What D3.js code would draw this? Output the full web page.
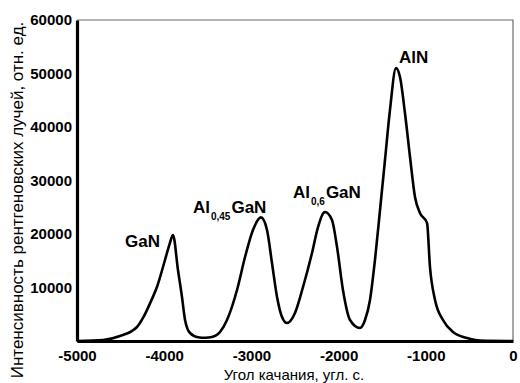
<!DOCTYPE html>
<html>
<head>
<meta charset="utf-8">
<script src="https://cdn.jsdelivr.net/npm/d3@7"></script>
<style>
	html, body { margin: 0; padding: 0; background: #fff; }
	svg { display: block; font-family: Arial, "Liberation Sans", sans-serif; }
</style>
</head>
<body>
<div id="chart"></div>
<script>
// угол качания, угл. с.
const angles = [
	-5000, -4700, -4507, -4312, -4240, -4150, -4083, -3991, -3940, -3899,
	-3842, -3796, -3761, -3704, -3612, -3530, -3452, -3360, -3280, -3165,
	-3073, -2982, -2890, -2821, -2764, -2706, -2649, -2592, -2500, -2408,
	-2305, -2236, -2156, -2076, -2018, -1950, -1869, -1755, -1697, -1640,
	-1583, -1525, -1468, -1411, -1342, -1296, -1239, -1181, -1124, -1067,
	-986, -952, -894, -803, -688, -528, -378, 0
];
// интенсивность, отн. ед.
const intensity = [
	0, 200, 935, 2617, 4400, 7500, 10093, 15140, 18000, 19800,
	13271, 8224, 3925, 1495, 700, 600, 748, 1682, 3925, 9533,
	15701, 20748, 23100, 20748, 14579, 8224, 4486, 3364, 5234, 10093,
	16449, 21308, 24100, 22617, 17570, 9533, 3925, 2430, 3925, 7664,
	15140, 24486, 33832, 43178, 51000, 49346, 42617, 34393, 26916, 23925,
	22056, 13832, 7664, 3925, 1682, 560, 80, 0
];
const xTicks = [-5000, -4000, -3000, -2000, -1000, 0];
const yTicks = [10000, 20000, 30000, 40000, 50000, 60000];

// подписи пиков: [основа, индекс, хвост, угол, интенсивность]
const peakLabels = [
	["GaN", "", "", -4450, 17570],
	["Al", "0,45", "GaN", -3670, 23925],
	["Al", "0,6", "GaN", -2523, 26730],
	["AlN", "", "", -1307, 51963]
];

(function() {
	const width = 520;
	const height = 383;
	const plot = { left: 77, right: 513, top: 20, bottom: 341 };

	const x = d3.scaleLinear().domain([-5000, 0]).range([plot.left, plot.right]);
	const y = d3.scaleLinear().domain([0, 60000]).range([plot.bottom, plot.top]);

	const svg = d3.select("#chart")
		.append("svg")
		.attr("width", width)
		.attr("height", height);

	// тонкая рамка сверху и справа
	svg.append("path")
		.attr("d", `M${plot.left},${plot.top}H${plot.right}V${plot.bottom}`)
		.attr("fill", "none")
		.attr("stroke", "#6a6a6a")
		.attr("stroke-width", 1.2);

	// кривая
	const line = d3.line()
		.x((d, i) => x(angles[i]))
		.y(d => y(d))
		.curve(d3.curveMonotoneX);

	svg.append("path")
		.datum(intensity)
		.attr("d", line)
		.attr("fill", "none")
		.attr("stroke", "#000")
		.attr("stroke-width", 2.6)
		.attr("stroke-linejoin", "round");

	// оси
	const xAxis = svg.append("g")
		.attr("transform", `translate(0,${plot.bottom})`)
		.call(d3.axisBottom(x).tickValues(xTicks).tickSize(0).tickPadding(9));
	const yAxis = svg.append("g")
		.attr("transform", `translate(${plot.left},0)`)
		.call(d3.axisLeft(y).tickValues(yTicks).tickSize(0).tickPadding(5).tickFormat(d3.format("d")));

	[xAxis, yAxis].forEach(g => {
		g.select(".domain").attr("stroke", "#000").attr("stroke-width", 3.2);
		g.selectAll("text")
			.attr("fill", "#000")
			.style("font-size", "15px")
			.style("font-weight", "bold")
			.style("font-family", "Arial, 'Liberation Sans', sans-serif");
	});
	// обычный дефис вместо минуса
	xAxis.selectAll("text").text(d => String(d));

	// подписи осей
	svg.append("text")
		.attr("x", 294)
		.attr("y", 380)
		.attr("text-anchor", "middle")
		.style("font-size", "15px")
		.text("Угол качания, угл. с.");

	svg.append("text")
		.attr("transform", "translate(23,200) rotate(-90)")
		.attr("text-anchor", "middle")
		.style("font-size", "17px")
		.text("Интенсивность рентгеновских лучей, отн. ед.");

	// подписи пиков
	const labels = svg.append("g")
		.style("font-size", "17px")
		.style("font-weight", "bold")
		.selectAll("text")
		.data(peakLabels)
		.join("text")
		.attr("x", d => x(d[3]))
		.attr("y", d => y(d[4]));

	labels.append("tspan").text(d => d[0]);
	labels.filter(d => d[1])
		.append("tspan")
		.attr("dy", 7)
		.attr("dx", 1)
		.style("font-size", "10px")
		.text(d => d[1]);
	labels.filter(d => d[2])
		.append("tspan")
		.attr("dy", -7)
		.attr("dx", 1)
		.text(d => d[2]);
})();
</script>
</body>
</html>
